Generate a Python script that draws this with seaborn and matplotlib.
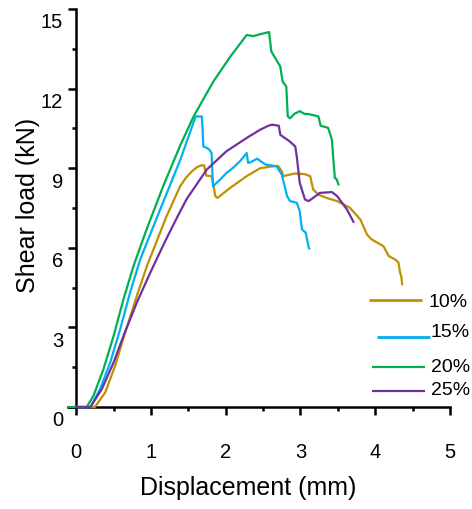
import numpy as np
import pandas as pd
import matplotlib
matplotlib.use("Agg")
import matplotlib.pyplot as plt
from matplotlib.ticker import MultipleLocator, FixedLocator
from matplotlib.transforms import ScaledTranslation
import seaborn as sns

# Load–displacement curves for each content level
series_names = ["10%", "15%", "20%", "25%"]
series_colors = ["#BF9000", "#00B0F0", "#00B050", "#7030A0"]

x_10 = [0, 0.25, 0.388, 0.52, 0.655, 0.81, 0.945, 1.087, 1.21, 1.39, 1.47, 1.547, 1.62,
        1.68, 1.71, 1.74, 1.81, 1.84, 1.86, 1.89, 2.06, 2.28, 2.46, 2.60, 2.70,
        2.75, 2.77, 2.86, 2.93, 3.05, 3.13, 3.17, 3.24, 3.35, 3.49, 3.66, 3.80,
        3.89, 3.95, 4.11, 4.18, 4.27, 4.31, 4.33, 4.35, 4.36]
y_10 = [0, 0, 0.55, 1.55, 2.81, 4.18, 5.31, 6.32, 7.2, 8.32, 8.65, 8.88, 9.05,
        9.11, 9.11, 8.72, 8.7, 8.3, 7.95, 7.88, 8.26, 8.7, 9.0, 9.06, 9.09,
        8.88, 8.7, 8.76, 8.8, 8.78, 8.7, 8.2, 8.0, 7.88, 7.76, 7.51, 7.07,
        6.5, 6.32, 6.06, 5.69, 5.55, 5.45, 5.1, 4.9, 4.62]

x_15 = [0, 0.19, 0.32, 0.455, 0.588, 0.72, 0.856, 0.967, 1.167, 1.39, 1.59, 1.60,
        1.68, 1.69, 1.70, 1.75, 1.78, 1.81, 1.83, 1.925, 2.01, 2.10, 2.19, 2.28,
        2.30, 2.33, 2.42, 2.53, 2.68, 2.75, 2.82, 2.86, 2.95, 2.99, 3.02, 3.07,
        3.11, 3.12]
y_15 = [0, 0, 0.68, 1.68, 2.93, 4.31, 5.56, 6.35, 7.75, 9.3, 10.89, 10.95,
        10.95, 10.5, 9.82, 9.76, 9.7, 9.57, 8.32, 8.57, 8.82, 9.02, 9.26, 9.57,
        9.2, 9.22, 9.36, 9.14, 9.07, 8.76, 7.95, 7.76, 7.70, 7.38, 6.69, 6.57,
        6.0, 5.97]

x_20 = [-0.10, 0.14, 0.23, 0.365, 0.50, 0.632, 0.766, 0.878, 0.945, 1.167, 1.39, 1.57,
        1.835, 2.06, 2.28, 2.37, 2.46, 2.58, 2.61, 2.73, 2.76, 2.81, 2.83, 2.86,
        2.92, 2.99, 3.05, 3.11, 3.24, 3.27, 3.37, 3.42, 3.44, 3.46, 3.48, 3.51]
y_20 = [0, 0, 0.42, 1.43, 2.68, 4.06, 5.31, 6.2, 6.72, 8.35, 9.85, 10.95,
        12.27, 13.2, 14.02, 13.98, 14.05, 14.13, 13.4, 12.83, 12.27, 12.08, 10.95, 10.88,
        11.05, 11.15, 11.05, 11.04, 10.95, 10.6, 10.52, 10.08, 9.32, 8.63, 8.6, 8.38]

x_25 = [0, 0.19, 0.343, 0.50, 0.632, 0.81, 0.99, 1.19, 1.35, 1.48, 1.747, 2.01,
        2.28, 2.46, 2.57, 2.62, 2.71, 2.73, 2.86, 2.93, 2.95, 2.99, 3.06, 3.11,
        3.26, 3.42, 3.49, 3.62, 3.71]
y_25 = [0, 0, 0.68, 1.68, 2.68, 3.93, 5.06, 6.25, 7.15, 7.85, 8.95, 9.64,
        10.14, 10.45, 10.6, 10.64, 10.6, 10.26, 10.0, 9.82, 9.45, 8.45, 7.82, 7.76,
        8.07, 8.1, 7.95, 7.45, 6.97]

x_ticks = [0, 1, 2, 3, 4, 5]
y_ticks = [0, 3, 6, 9, 12, 15]

frames = []
for name, xs, ys in zip(series_names, [x_10, x_15, x_20, x_25], [y_10, y_15, y_20, y_25]):
    frames.append(pd.DataFrame({"disp": xs, "load": ys, "group": name}))
df = pd.concat(frames, ignore_index=True)

sns.set_theme(style="ticks")
plt.rcParams["font.family"] = ["Liberation Sans", "DejaVu Sans"]

fig = plt.figure(figsize=(4.72, 5.10), dpi=100)
ax = fig.add_axes([68 / 472, 1 - 408 / 510, (450 - 68) / 472, (408 - 10) / 510])

sns.lineplot(data=df, x="disp", y="load", hue="group", hue_order=series_names,
             palette=series_colors, units="group", estimator=None, sort=False,
             linewidth=1.6, legend=False, ax=ax, zorder=5)
for line in ax.get_lines():
    line.set_clip_on(False)
    line.set_solid_joinstyle("round")

ax.set_xlim(-0.11, 5.0)
ax.set_ylim(0, 15)

# Axes styling: y axis crosses at x = 0
ax.spines["top"].set_visible(False)
ax.spines["right"].set_visible(False)
ax.spines["left"].set_position(("data", 0))
for sp in ("left", "bottom"):
    ax.spines[sp].set_linewidth(1.8)
    ax.spines[sp].set_color("black")

ax.xaxis.set_major_locator(FixedLocator(x_ticks))
ax.xaxis.set_minor_locator(MultipleLocator(0.5))
ax.yaxis.set_major_locator(FixedLocator(y_ticks))
ax.yaxis.set_minor_locator(MultipleLocator(1.5))
ax.set_xticklabels([str(v) for v in x_ticks])
ax.set_yticklabels([str(v) for v in y_ticks])

ax.tick_params(axis="both", which="major", direction="out", length=5.5, width=1.8,
               color="black", labelsize=14.5, labelcolor="black")
ax.tick_params(axis="both", which="minor", direction="out", length=3.2, width=1.8,
               color="black")
ax.tick_params(axis="x", which="major", pad=20)
ax.tick_params(axis="y", which="major", pad=4)

ax.set_xlabel("Displacement (mm)", fontsize=18, color="black")
ax.set_ylabel("Shear load (kN)", fontsize=18, color="black")
ax.xaxis.set_label_coords(0.471, -0.17)
ax.yaxis.set_label_coords(-0.073, 0.51)

ax.grid(False)
ax.set_facecolor("white")
fig.patch.set_facecolor("white")

# Legend drawn as line samples with labels at the lower right
legend_rows = [
    (0.788, 0.927, 0.269, 0.945, 0.266, 2.0),
    (0.809, 0.948, 0.176, 0.950, 0.190, 2.0),
    (0.796, 0.935, 0.1005, 0.950, 0.103, 1.6),
    (0.796, 0.935, 0.040, 0.950, 0.043, 1.6),
]
for (x0, x1, yl, xt, yt, lw), name, col in zip(legend_rows, series_names, series_colors):
    ax.plot([x0, x1], [yl, yl], transform=ax.transAxes, color=col, linewidth=lw,
            solid_capstyle="butt", clip_on=False, zorder=6)
    ax.text(xt, yt, name, transform=ax.transAxes, fontsize=14, ha="left",
            va="center", color="black")

# Shift y tick labels slightly downward
fig.canvas.draw()
for tick in ax.yaxis.get_major_ticks():
    tick.label1.set_transform(tick.label1.get_transform()
                              + ScaledTranslation(0, -11 / 100, fig.dpi_scale_trans))

fig.savefig("out.png", dpi=100, facecolor="white")
